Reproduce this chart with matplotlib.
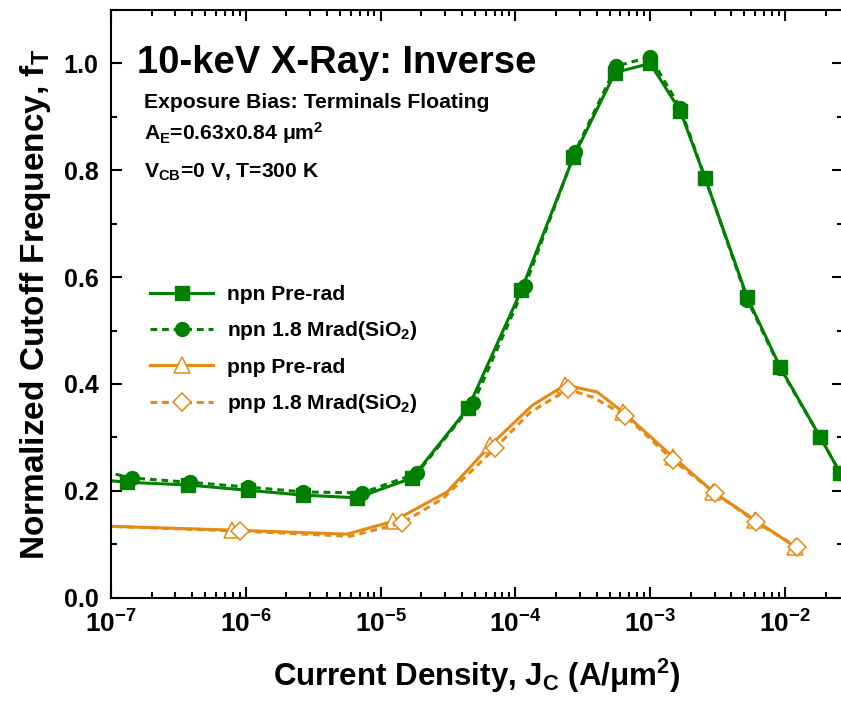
import numpy as np
import matplotlib
matplotlib.use("Agg")
import matplotlib.pyplot as plt
from matplotlib.ticker import FixedLocator, LogLocator, MultipleLocator, NullFormatter

plt.rcParams["font.family"] = ["Liberation Sans", "DejaVu Sans"]
plt.rcParams["font.weight"] = "bold"
plt.rcParams["axes.labelweight"] = "bold"
plt.rcParams["mathtext.fontset"] = "custom"
plt.rcParams["mathtext.rm"] = "Liberation Sans:bold"
plt.rcParams["mathtext.bf"] = "Liberation Sans:bold"
plt.rcParams["mathtext.it"] = "Liberation Sans:bold"
plt.rcParams["mathtext.default"] = "bf"

GREEN = "#008000"
ORANGE = "#E58A13"

# ── data (log10 of Jc in A/um^2, normalized fT) ───────────────────────────
npn_pre_logj = [-7.05, -6.881, -6.429, -5.983, -5.575, -5.174, -4.766, -4.351, -3.957,
                -3.571, -3.260, -3.000, -2.777, -2.592, -2.280, -2.035, -1.738, -1.590]
npn_pre_ft = [0.220, 0.216, 0.211, 0.201, 0.192, 0.187, 0.224, 0.355, 0.575,
              0.824, 0.983, 1.000, 0.911, 0.785, 0.562, 0.431, 0.300, 0.233]

npn_rad_logj = [-7.05, -6.844, -6.414, -5.983, -5.575, -5.137, -4.729, -4.313, -3.928,
                -3.557, -3.252, -3.000, -2.777, -2.592, -2.280, -2.035, -1.738, -1.590]
npn_rad_ft = [0.236, 0.224, 0.216, 0.207, 0.198, 0.196, 0.233, 0.364, 0.584,
              0.835, 0.995, 1.012, 0.917, 0.785, 0.558, 0.429, 0.300, 0.233]

pnp_pre_logj = [-7.05, -6.102, -5.249, -4.907, -4.506, -4.187, -3.875, -3.631, -3.393,
                -3.200, -2.829, -2.532, -2.221, -1.924]
pnp_pre_ft = [0.134, 0.1265, 0.119, 0.143, 0.198, 0.285, 0.360, 0.398, 0.385,
              0.347, 0.263, 0.198, 0.145, 0.095]

pnp_rad_logj = [-7.05, -6.043, -5.226, -4.840, -4.536, -4.150, -3.890, -3.609, -3.423,
                -3.186, -2.829, -2.518, -2.213, -1.909]
pnp_rad_ft = [0.134, 0.1246, 0.115, 0.140, 0.186, 0.280, 0.347, 0.390, 0.375,
              0.341, 0.257, 0.196, 0.141, 0.095]

npn_marks = list(range(1, 18))
pnp_marks = [1, 3, 5, 7, 9, 10, 11, 12, 13]

W, H = 841, 710
fig = plt.figure(figsize=(W / 100, H / 100), dpi=100)
ax = fig.add_axes([111 / W, 1 - 597.7 / H, (843 - 111) / W, (597.7 - 10) / H])

dash = (0, (2.2, 1.6))
l2, = ax.plot(10 ** np.array(npn_rad_logj), npn_rad_ft, ls=dash, color=GREEN, lw=2.2,
              marker="o", ms=10, markevery=npn_marks, label=r"npn 1.8 Mrad(SiO$_2$)")
l1, = ax.plot(10 ** np.array(npn_pre_logj), npn_pre_ft, ls="-", color=GREEN, lw=2.2,
              marker="s", ms=9.5, markevery=npn_marks, label="npn Pre-rad")
l3, = ax.plot(10 ** np.array(pnp_pre_logj), pnp_pre_ft, ls="-", color=ORANGE, lw=2.2,
              marker="^", ms=11, mfc="white", mec=ORANGE, mew=1.1,
              markevery=pnp_marks, label="pnp Pre-rad")
l4, = ax.plot(10 ** np.array(pnp_rad_logj), pnp_rad_ft, ls=dash, color=ORANGE, lw=2.2,
              marker="D", ms=9, mfc="white", mec=ORANGE, mew=1.1,
              markevery=pnp_marks, label=r"pnp 1.8 Mrad(SiO$_2$)")

ax.set_xscale("log")
ax.set_xlim(1e-7, 10 ** -1.570)
ax.set_ylim(0, 1.1)

ax.xaxis.set_major_locator(FixedLocator([1e-7, 1e-6, 1e-5, 1e-4, 1e-3, 1e-2]))
ax.xaxis.set_minor_locator(LogLocator(base=10, subs=np.arange(2, 10), numticks=20))
ax.xaxis.set_minor_formatter(NullFormatter())
ax.set_xticklabels([r"$\mathbf{10^{%d}}$" % e for e in range(-7, -1)])
ax.set_yticks([0, 0.2, 0.4, 0.6, 0.8, 1.0])
ax.set_yticklabels(["0.0", "0.2", "0.4", "0.6", "0.8", "1.0"])
ax.yaxis.set_minor_locator(MultipleLocator(0.1))

ax.tick_params(which="both", direction="in", top=True, right=True, width=1.5)
ax.tick_params(which="major", length=8)
ax.tick_params(which="minor", length=4)
ax.tick_params(axis="x", labelsize=19, pad=9)
ax.tick_params(axis="y", labelsize=18, pad=9)
for s in ax.spines.values():
    s.set_linewidth(1.5)

ax.set_xlabel(r"Current Density, J$_C$ (A/$\mu$m$^2$)", fontsize=22.5, labelpad=14)
ax.set_ylabel(r"Normalized Cutoff Frequency, f$_T$", fontsize=24, labelpad=8)

fig.text(137 / W, 1 - 73 / H, "10-keV X-Ray: Inverse", fontsize=27.5, fontweight="bold",
         va="baseline")
fig.text(144 / W, 1 - 108 / H, "Exposure Bias: Terminals Floating", fontsize=15.2,
         va="baseline")
fig.text(144 / W, 1 - 140 / H, r"A$_E$=0.63x0.84 $\mu$m$^2$", fontsize=15.2, va="baseline")
fig.text(144 / W, 1 - 178 / H, r"V$_{CB}$=0 V, T=300 K", fontsize=15.2, va="baseline")

ax.legend([l1, l2, l3, l4], [l.get_label() for l in (l1, l2, l3, l4)],
          loc="upper left", bbox_to_anchor=(150 / W, 1 - 285 / H),
          bbox_transform=fig.transFigure, frameon=False, fontsize=15.2,
          handlelength=3.0, handletextpad=0.66, labelspacing=0.73,
          borderpad=0, borderaxespad=0, numpoints=1)

fig.savefig("out.png", dpi=100)
